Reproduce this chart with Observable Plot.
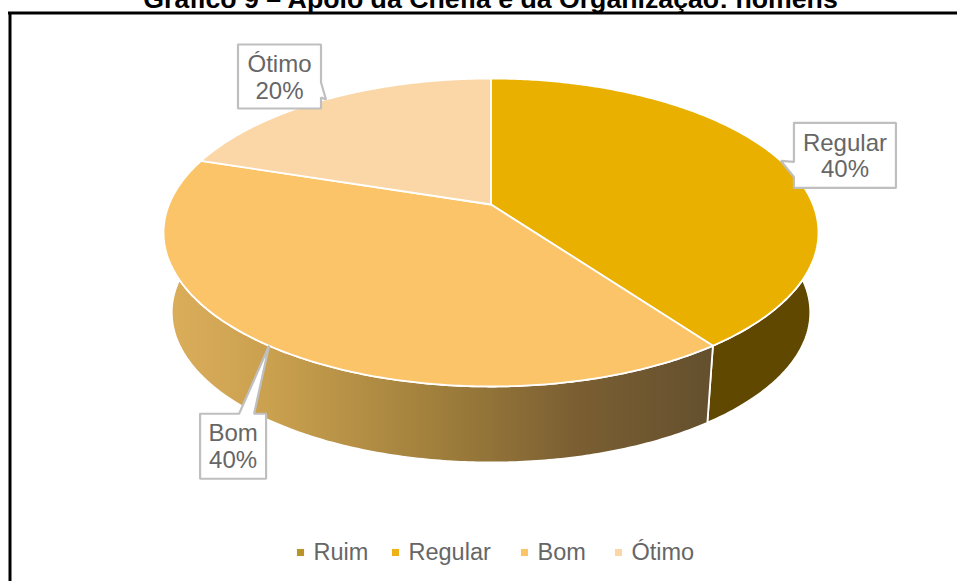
<!DOCTYPE html>
<html lang="pt">
<head>
<meta charset="utf-8">
<title>Gráfico 9</title>
<script src="https://cdn.jsdelivr.net/npm/d3@7"></script>
<script src="https://cdn.jsdelivr.net/npm/@observablehq/plot@0.6"></script>
<style>
  html, body { margin: 0; background: #fff; }
  svg { display: block; }
</style>
</head>
<body>
<div id="chart"></div>
<script>
// Survey answers and their shares, in percent
const categories = ["Ruim", "Regular", "Bom", "Ótimo"];
const shares = [0, 40, 40, 20];
const topColors = ["#b8952a", "#e9b000", "#fbc468", "#fbd7a8"];
const legendColors = ["#b8952a", "#eeb117", "#fbc468", "#fbd7a8"];
const titleText = "Gráfico 9 – Apoio da Chefia e da Organização: homens";

const W = 957, H = 581;

// Perspective of the tilted disc: angle (clockwise from twelve o'clock) to screen position
const cx = 490.5, cy = 204, ax = 322, ay = 148.9, tilt = 0.1818;
const rim = (theta) => {
  const u = Math.sin(theta), v = -Math.cos(theta), w = 1 - tilt * v;
  return [cx + ax * u / w, cy + ay * v / w];
};
// The underside of the disc converges toward a far vanishing point
const shrink = 0.975, vanishY = 3426;
const under = ([x, y]) => [cx + shrink * (x - cx), vanishY + shrink * (y - vanishY)];

const arcs = d3.pie().sort(null).value((d) => d.share)(
  categories.map((name, i) => ({name, share: shares[i]}))
).filter((a) => a.data.share > 0);

const sweep = (a) => {
  const n = Math.max(2, Math.ceil((a.endAngle - a.startAngle) * 90));
  return d3.range(n + 1).map((i) => rim(a.startAngle + (a.endAngle - a.startAngle) * i / n));
};

const topRows = arcs.flatMap((a) => {
  const pts = [[cx, cy], ...sweep(a), [cx, cy]];
  return pts.map(([x, y]) => ({x, y, name: a.data.name}));
});
const wallRows = (name) => {
  const a = arcs.find((d) => d.data.name === name);
  const upper = sweep(a);
  const lower = upper.map(under).reverse();
  return [...upper, ...lower, upper[0]].map(([x, y]) => ({x, y}));
};

// Wall shading of the large front slice runs from warm tan to dark brown
const wallGradient = () => {
  const defs = d3.create("svg:defs");
  const g = defs.append("linearGradient").attr("id", "bomWall")
    .attr("gradientUnits", "userSpaceOnUse")
    .attr("x1", 163).attr("x2", 710).attr("y1", 0).attr("y2", 0);
  [[0, "#dcae5c"], [0.2, "#c9a04e"], [0.5, "#a07f3c"], [0.75, "#7b5f32"], [1, "#64502e"]]
    .forEach(([o, c]) => g.append("stop").attr("offset", o).attr("stop-color", c));
  return defs.node();
};

// Callouts: a box offset from the rim point at the middle of each slice, with a pointer to it
const boxOffset = {
  "Regular": {dx: 13, dy: -38, w: 102, h: 65, base: [[0, 39], [0, 54]]},
  "Bom": {dx: -69, dy: 68, w: 66, h: 65, base: [[54, 0], [39, 0]]},
  "Ótimo": {dx: -88, dy: -55, w: 83, h: 64, base: [[83, 53], [83, 38]]}
};
const callouts = arcs.map((a) => {
  const tip = rim((a.startAngle + a.endAngle) / 2);
  const o = boxOffset[a.data.name];
  const x0 = tip[0] + o.dx, y0 = tip[1] + o.dy, x1 = x0 + o.w, y1 = y0 + o.h;
  const [b0, b1] = o.base.map(([bx, by]) => [x0 + bx, y0 + by]);
  // Walk the box clockwise from its top-left corner, inserting the pointer on its own side
  let outline;
  if (a.data.name === "Regular") outline = [[x0, y0], [x1, y0], [x1, y1], [x0, y1], b1, tip, b0, [x0, y0]];
  else if (a.data.name === "Bom") outline = [[x0, y0], b1, tip, b0, [x1, y0], [x1, y1], [x0, y1], [x0, y0]];
  else outline = [[x0, y0], [x1, y0], b1, tip, b0, [x1, y1], [x0, y1], [x0, y0]];
  return {
    name: a.data.name,
    label: `${a.data.name}\n${a.data.share}%`,
    cx: (x0 + x1) / 2, cy: (y0 + y1) / 2,
    outline: outline.map(([x, y]) => ({x, y, name: a.data.name}))
  };
});

// Legend entries sit on one row at the foot of the chart
const legendMarkerX = [300, 395, 524, 618];
const legendRows = categories.map((name, i) => ({name, x: legendMarkerX[i], y: 552, color: legendColors[i]}));

const chart = Plot.plot({
  width: W, height: H, margin: 0,
  x: {domain: [0, W], range: [0, W], axis: null},
  y: {domain: [0, H], range: [0, H], axis: null},
  color: {domain: categories, range: topColors},
  style: {background: "#fff", fontFamily: "'Liberation Sans', Arial, sans-serif"},
  marks: [
    wallGradient,
    Plot.ruleX([9.5], {y1: 12.5, y2: H, stroke: "#000", strokeWidth: 3}),
    Plot.ruleY([12.5], {x1: 8, x2: W, stroke: "#000", strokeWidth: 3}),
    Plot.text([titleText], {
      x: () => 490, y: () => 7, text: (d) => d, fontSize: 26.7, fontWeight: "bold",
      fill: "#000", textAnchor: "middle", lineAnchor: "bottom"
    }),
    Plot.line(wallRows("Ótimo"), {x: "x", y: "y", fill: "#b89a70", stroke: "#fff", strokeWidth: 1.8}),
    Plot.line(wallRows("Regular"), {x: "x", y: "y", fill: "#604800", stroke: "#fff", strokeWidth: 1.8}),
    Plot.line(wallRows("Bom"), {x: "x", y: "y", fill: "url(#bomWall)", stroke: "#fff", strokeWidth: 1.8}),
    Plot.line(topRows, {x: "x", y: "y", z: "name", fill: "name", stroke: "#fff", strokeWidth: 1.8}),
    ...callouts.map((c) => Plot.line(c.outline, {x: "x", y: "y", fill: "#fff", stroke: "#bfbfbf", strokeWidth: 2.2, strokeLinejoin: "miter"})),
    Plot.text(callouts, {
      x: "cx", y: "cy", text: "label", fontSize: 24, lineHeight: 1.12,
      fill: "#666666", textAnchor: "middle", frameAnchor: "middle"
    }),
    Plot.dot(legendRows, {x: "x", y: "y", symbol: "square", r: 4, fill: "color", stroke: null}),
    Plot.text(legendRows, {
      x: (d) => d.x + 13, y: "y", text: "name", fontSize: 23.5,
      fill: "#666666", textAnchor: "start"
    })
  ]
});
document.getElementById("chart").append(chart);
</script>
</body>
</html>
